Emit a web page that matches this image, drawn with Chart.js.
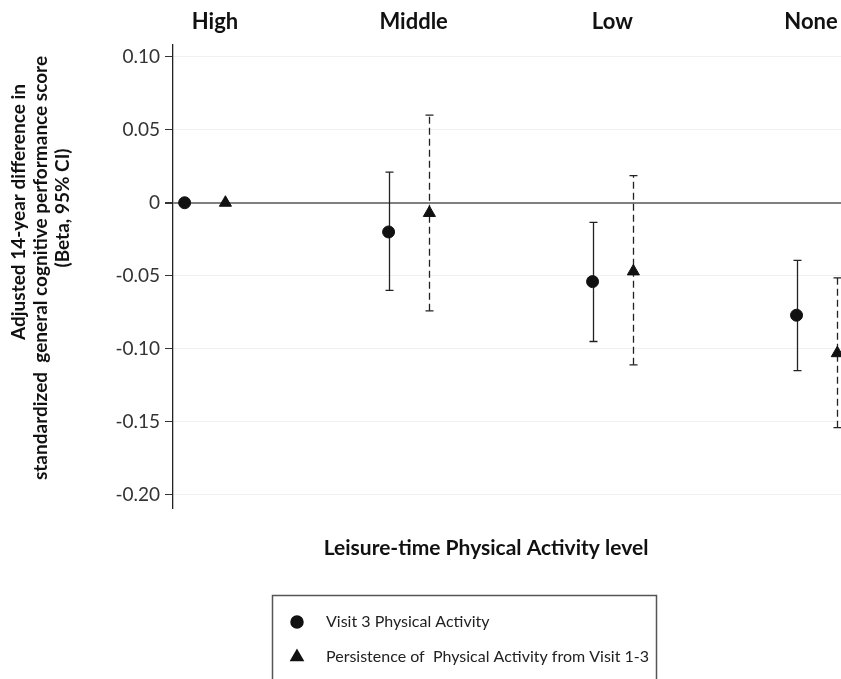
<!DOCTYPE html>
<html>
<head>
<meta charset="utf-8">
<script src="https://cdn.jsdelivr.net/npm/chart.js@4.4.0/dist/chart.umd.min.js"></script>
<style>
  html, body { margin: 0; padding: 0; background: #fff; }
</style>
</head>
<body>
<canvas id="myChart" width="841" height="679"></canvas>
<script>
// data
var categories = ['High', 'Middle', 'Low', 'None'];
var visit3 = [0, -0.020, -0.054, -0.077];
var visit3Low = [null, -0.060, -0.095, -0.115];
var visit3High = [null, 0.021, -0.0135, -0.0395];
var persist = [0, -0.007, -0.047, -0.103];
var persistLow = [null, -0.074, -0.111, -0.154];
var persistHigh = [null, 0.060, 0.0185, -0.0515];
var yTicks = [0.10, 0.05, 0, -0.05, -0.10, -0.15, -0.20];
var yTickLabels = ['0.10', '0.05', '0', '-0.05', '-0.10', '-0.15', '-0.20'];
var yTitle = ['Adjusted 14-year difference in', 'standardized  general cognitive performance score', '(Beta, 95% CI)'];
var xTitle = 'Leisure-time Physical Activity level';

var FONT = 'Lato, "Open Sans", sans-serif';
var shift = 0.1; // side-by-side offset of the two series within a category

// vertical CI bars with caps, drawn under the markers
var errorBars = {
  id: 'errorBars',
  beforeDatasetsDraw: function(chart) {
    var ctx = chart.ctx, xs = chart.scales.x, ys = chart.scales.y;
    chart.data.datasets.forEach(function(ds) {
      ctx.save();
      ctx.strokeStyle = '#222';
      ctx.lineWidth = 1.3;
      ds.data.forEach(function(p, i) {
        if (ds.ciLow[i] == null) return;
        var x = Math.round(xs.getPixelForValue(p.x)) + 0.5;
        var y1 = ys.getPixelForValue(ds.ciLow[i]);
        var y2 = ys.getPixelForValue(ds.ciHigh[i]);
        ctx.setLineDash(ds.ciDash);
        ctx.beginPath(); ctx.moveTo(x, y1); ctx.lineTo(x, y2); ctx.stroke();
        ctx.setLineDash([]);
        ctx.beginPath();
        ctx.moveTo(x - 4, y1); ctx.lineTo(x + 4, y1);
        ctx.moveTo(x - 4, y2); ctx.lineTo(x + 4, y2);
        ctx.stroke();
      });
      ctx.restore();
    });
  }
};

// axis titles + boxed legend
var extras = {
  id: 'extras',
  afterDraw: function(chart) {
    var ctx = chart.ctx;
    ctx.save();
    ctx.fillStyle = '#111';
    // y title, rotated
    ctx.font = 'bold 19px ' + FONT;
    ctx.textAlign = 'center';
    ctx.textBaseline = 'middle';
    var cols = [19, 41, 63], mids = [212, 268, 208];
    yTitle.forEach(function(t, i) {
      ctx.save();
      ctx.translate(cols[i], mids[i]);
      ctx.rotate(-Math.PI / 2);
      ctx.fillText(t, 0, 0);
      ctx.restore();
    });
    // x title
    ctx.font = 'bold 21px ' + FONT;
    ctx.fillText(xTitle, 486, 548);

    // legend box
    ctx.strokeStyle = '#555';
    ctx.lineWidth = 1.5;
    ctx.strokeRect(272.5, 595.5, 384, 100);
    ctx.font = '16px ' + FONT;
    ctx.textAlign = 'left';
    var rows = [622, 657];
    chart.data.datasets.forEach(function(ds, i) {
      ctx.fillStyle = '#111';
      ctx.strokeStyle = '#111';
      Chart.helpers.drawPoint(ctx, { pointStyle: ds.pointStyle, radius: ds.pointRadius, rotation: 0, borderWidth: 1 }, 297, rows[i]);
      ctx.fillStyle = '#222';
      ctx.fillText(ds.label, 326, rows[i]);
    });
    ctx.restore();
  }
};

var ctx1 = document.getElementById('myChart').getContext('2d');
var chart = new Chart(ctx1, {
  type: 'scatter',
  data: {
    datasets: [
      {
        label: 'Visit 3 Physical Activity',
        data: visit3.map(function(v, i) { return { x: i - shift, y: v }; }),
        ciLow: visit3Low,
        ciHigh: visit3High,
        ciDash: [],
        pointStyle: 'circle',
        pointRadius: 6,
        backgroundColor: '#111',
        borderColor: '#111'
      },
      {
        label: 'Persistence of  Physical Activity from Visit 1-3',
        data: persist.map(function(v, i) { return { x: i + shift, y: v }; }),
        ciLow: persistLow,
        ciHigh: persistHigh,
        ciDash: [7, 4],
        pointStyle: 'triangle',
        pointRadius: 7,
        backgroundColor: '#111',
        borderColor: '#111'
      }
    ]
  },
  options: {
    responsive: false,
    animation: false,
    layout: { autoPadding: false, padding: { top: 0, right: 0, bottom: 171, left: 0 } },
    plugins: { legend: { display: false }, tooltip: { enabled: false } },
    scales: {
      x: { type: 'linear', display: false, min: -0.157, max: 3.118 },
      xTop: {
        type: 'linear',
        position: 'top',
        min: -0.2114,
        max: 3.151,
        grid: { display: false, drawTicks: false },
        border: { display: false },
        afterBuildTicks: function(axis) {
          axis.ticks = categories.map(function(c, i) { return { value: i }; });
        },
        afterFit: function(axis) {
          axis.height = 45;
          axis.paddingLeft = 0;
          axis.paddingRight = 0;
        },
        ticks: {
          padding: 10,
          maxRotation: 0,
          autoSkip: false,
          color: '#111',
          font: { family: FONT, size: 22, weight: 'bold' },
          callback: function(v) { return categories[v]; }
        }
      },
      y: {
        min: -0.209,
        max: 0.108,
        afterBuildTicks: function(axis) {
          axis.ticks = yTicks.map(function(v) { return { value: v }; });
        },
        afterFit: function(axis) {
          axis.width = 173;
          axis.paddingTop = 0;
          axis.paddingBottom = 0;
        },
        border: { color: '#222', width: 1.3 },
        grid: {
          color: function(c) { return c.tick && c.tick.value === 0 ? '#808080' : '#f0f0f0'; },
          lineWidth: function(c) { return c.tick && c.tick.value === 0 ? 2 : 1; },
          tickColor: '#333',
          tickLength: 8
        },
        ticks: {
          padding: 5,
          color: '#333',
          font: { family: FONT, size: 19 },
          callback: function(v) { return yTickLabels[yTicks.indexOf(v)]; }
        }
      }
    }
  },
  plugins: [errorBars, extras]
});
</script>
</body>
</html>
